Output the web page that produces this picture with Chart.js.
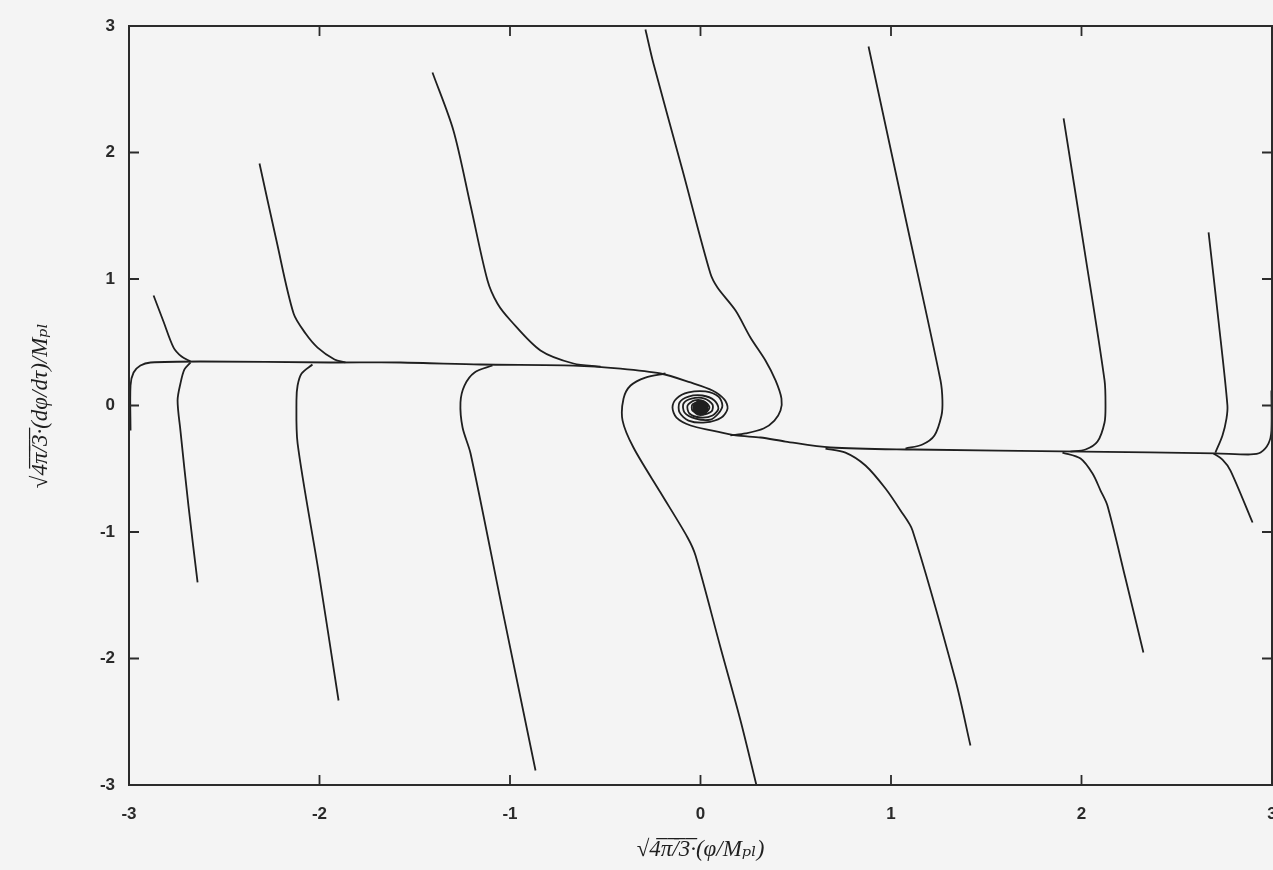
<!DOCTYPE html>
<html>
<head>
<meta charset="utf-8">
<script src="https://cdn.jsdelivr.net/npm/chart.js@4.4.1/dist/chart.umd.min.js"></script>
<style>
  html, body { margin: 0; padding: 0; background: #f4f4f4; overflow: hidden; }
  #wrap { width: 1280px; height: 870px; }
</style>
</head>
<body>
<div id="wrap"><canvas id="phaseChart" width="1280" height="870"></canvas></div>
<script>
// tick values on both axes
const xTicks = [-3, -2, -1, 0, 1, 2, 3];
const yTicks = [-3, -2, -1, 0, 1, 2, 3];

// separatrix coming from the left, winding into the focus
const sepUpper = [[-2.992,-0.198],[-2.992,0.158],[-2.976,0.261],[-2.94,0.316],[-2.887,0.34],[-2.625,0.348],
  [-1.942,0.34],[-1.575,0.34],[-1.155,0.324],[-0.667,0.316],[-0.42,0.292],[-0.21,0.253],
  [-0.052,0.182],[0.063,0.119],[0.126,0.047],[0.142,-0.024],[0.11,-0.095],[0.026,-0.134],[-0.063,-0.119],
  [-0.11,-0.055],[-0.11,0.024],[-0.063,0.071],[0.01,0.079],[0.073,0.04],[0.094,-0.024],[0.063,-0.079],
  [0.0,-0.095],[-0.058,-0.063],[-0.068,0.0],[-0.031,0.04],[0.021,0.032],[0.047,-0.016],[0.026,-0.055],
  [-0.016,-0.055],[-0.031,-0.016],[-0.005,0.008]];

// separatrix coming from the right
const sepLower = [[2.997,0.119],[2.997,-0.198],[2.982,-0.3],[2.94,-0.372],[2.887,-0.387],[2.703,-0.379],
  [2.01,-0.364],[1.118,-0.348],[0.682,-0.332],[0.446,-0.285],[0.315,-0.253],
  [0.184,-0.237],[0.063,-0.198],[-0.052,-0.158],[-0.126,-0.095],[-0.147,-0.016],[-0.126,0.055],
  [-0.063,0.103],[0.026,0.111],[0.094,0.071],[0.115,0.0],[0.094,-0.063],[0.052,-0.111],[-0.026,-0.103],
  [-0.084,-0.055],[-0.089,0.016],[-0.047,0.055],[0.021,0.055],[0.063,0.008],[0.058,-0.047],[0.01,-0.071],
  [-0.042,-0.04],[-0.042,0.008],[0.0,0.024],[0.026,-0.016]];

// trajectories, left half
const traj1 = [[-2.871,0.87],[-2.819,0.664],[-2.766,0.458],[-2.724,0.387],[-2.677,0.348]];
const traj2 = [[-2.315,1.913],[-2.226,1.304],[-2.136,0.727],[-2.073,0.569],[-2.01,0.458],[-1.921,0.364],[-1.864,0.34]];
const traj3 = [[-1.407,2.632],[-1.297,2.174],[-1.207,1.581],[-1.118,0.988],[-1.066,0.806],[-0.997,0.672],
  [-0.84,0.435],[-0.667,0.332],[-0.525,0.308]];
const traj4 = [[-0.289,2.972],[-0.247,2.704],[-0.094,1.858],[0.052,1.043],[0.089,0.933],[0.184,0.751],
  [0.262,0.538],[0.341,0.356],[0.394,0.198],[0.425,0.055],[0.42,-0.04],[0.388,-0.119],[0.331,-0.182],
  [0.236,-0.221],[0.157,-0.237]];
const traj5 = [[-2.677,0.34],[-2.709,0.285],[-2.73,0.174],[-2.745,0.04],[-2.73,-0.198],[-2.688,-0.791],[-2.64,-1.399]];
const traj6 = [[-2.037,0.324],[-2.094,0.253],[-2.115,0.158],[-2.121,0.04],[-2.115,-0.3],[-2.005,-1.312],[-1.9,-2.332]];
const traj7 = [[-1.092,0.316],[-1.186,0.261],[-1.239,0.158],[-1.26,0.024],[-1.249,-0.174],[-1.207,-0.379],
  [-1.039,-1.621],[-0.866,-2.885]];
const traj8 = [[-0.184,0.253],[-0.289,0.221],[-0.367,0.158],[-0.404,0.055],[-0.409,-0.119],[-0.352,-0.332],
  [-0.21,-0.688],[-0.068,-1.043],[-0.026,-1.186],[0.105,-1.913],[0.21,-2.49],[0.294,-3.004]];

// trajectories, right half
const traj9 = [[0.656,-0.34],[0.761,-0.372],[0.866,-0.474],[0.971,-0.656],[1.05,-0.83],[1.113,-0.988],
  [1.339,-2.174],[1.417,-2.688]];
const traj10 = [[1.9,-0.372],[1.995,-0.419],[2.058,-0.538],[2.1,-0.672],[2.136,-0.791],[2.231,-1.368],[2.325,-1.953]];
const traj11 = [[2.693,-0.379],[2.74,-0.427],[2.782,-0.514],[2.898,-0.925]];
const traj12 = [[0.882,2.838],[1.071,1.518],[1.26,0.198],[1.27,0.04],[1.265,-0.079],[1.228,-0.237],
  [1.165,-0.308],[1.076,-0.34]];
const traj13 = [[1.906,2.269],[2.016,1.225],[2.121,0.198],[2.126,0.0],[2.121,-0.134],[2.084,-0.285],
  [2.021,-0.348],[1.942,-0.364]];
const traj14 = [[2.667,1.368],[2.719,0.672],[2.766,0.0],[2.761,-0.103],[2.74,-0.237],[2.703,-0.372]];

// stable focus
const focus = [[0.0, -0.02]];

const curves = [sepUpper, sepLower, traj1, traj2, traj3, traj4, traj5, traj6, traj7,
  traj8, traj9, traj10, traj11, traj12, traj13, traj14];

const inkColor = '#1f1f1f';

function toPoints(arr) {
  return arr.map(p => ({ x: p[0], y: p[1] }));
}

// frame with inward ticks on all four sides
const framePlugin = {
  id: 'frame',
  afterDatasetsDraw(chart) {
    const { ctx, chartArea: a, scales: { x, y } } = chart;
    ctx.save();
    ctx.strokeStyle = '#2b2b2b';
    ctx.lineWidth = 2;
    ctx.strokeRect(a.left, a.top, a.right - a.left, a.bottom - a.top);
    ctx.lineWidth = 1.8;
    ctx.beginPath();
    xTicks.forEach(v => {
      const px = x.getPixelForValue(v);
      ctx.moveTo(px, a.bottom); ctx.lineTo(px, a.bottom - 10);
      ctx.moveTo(px, a.top); ctx.lineTo(px, a.top + 10);
    });
    yTicks.forEach(v => {
      const py = y.getPixelForValue(v);
      ctx.moveTo(a.left, py); ctx.lineTo(a.left + 10, py);
      ctx.moveTo(a.right, py); ctx.lineTo(a.right - 10, py);
    });
    ctx.stroke();
    ctx.restore();
  }
};

const datasets = curves.map(c => ({
  data: toPoints(c),
  showLine: true,
  borderColor: inkColor,
  borderWidth: 1.8,
  pointRadius: 0,
  tension: 0.3,
  fill: false
}));
datasets.push({
  data: toPoints(focus),
  showLine: false,
  pointRadius: 8,
  pointBackgroundColor: inkColor,
  pointBorderWidth: 0
});

const tickFont = { family: "'Liberation Sans', Arial, sans-serif", size: 17, weight: 'bold' };
const titleFont = { family: "'Liberation Serif', 'DejaVu Serif', serif", size: 23, style: 'italic' };

new Chart(document.getElementById('phaseChart').getContext('2d'), {
  type: 'scatter',
  data: { datasets: datasets },
  options: {
    responsive: false,
    animation: false,
    layout: { padding: { top: 26, right: 5, bottom: 0, left: 0 } },
    plugins: { legend: { display: false }, tooltip: { enabled: false } },
    scales: {
      x: {
        type: 'linear', min: -3, max: 3,
        afterBuildTicks: s => { s.ticks = xTicks.map(v => ({ value: v })); },
        afterFit: s => { s.height = 85; s.paddingLeft = 0; s.paddingRight = 0; },
        grid: { display: false, drawTicks: false },
        border: { display: false },
        ticks: { color: '#2a2a2a', font: tickFont, padding: 19, maxRotation: 0 },
        title: { display: true, text: '√4̅π̅/̅3̅·(φ/Mₚₗ)', color: '#1f1f1f', font: titleFont, padding: { top: 0, bottom: 6 } }
      },
      y: {
        type: 'linear', min: -3, max: 3,
        afterBuildTicks: s => { s.ticks = yTicks.map(v => ({ value: v })); },
        afterFit: s => { s.width = 129; s.paddingTop = 0; s.paddingBottom = 0; },
        grid: { display: false, drawTicks: false },
        border: { display: false },
        ticks: { color: '#2a2a2a', font: tickFont, padding: 14 },
        title: { display: true, text: '√4̅π̅/̅3̅·(dφ/dτ)/Mₚₗ', color: '#1f1f1f', font: titleFont, padding: { top: 27, bottom: 0 } }
      }
    }
  },
  plugins: [framePlugin]
});
</script>
</body>
</html>
